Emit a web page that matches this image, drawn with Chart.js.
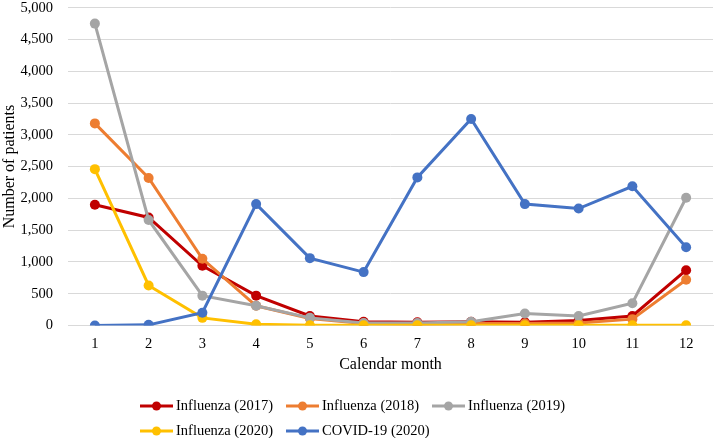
<!DOCTYPE html>
<html><head><meta charset="utf-8">
<script src="https://cdn.jsdelivr.net/npm/chart.js@4"></script>
<style>
html,body{margin:0;padding:0;background:#fff}
#wrap{position:relative;width:714px;height:438px;overflow:hidden}
#c{position:absolute;left:0;top:-16px}
#legend{position:absolute;left:140px;top:393px;width:445px;display:flex;flex-wrap:wrap;column-gap:13px;row-gap:0;
  font-family:"Liberation Serif","Times New Roman",serif;font-size:14.5px;color:#000}
.item{display:flex;align-items:center;height:25px;white-space:nowrap}
.item canvas{margin-right:3px}
</style>
</head><body><div id="wrap"><canvas id="c" width="714" height="454"></canvas><div id="legend"></div></div>
<script>
const months = ['1','2','3','4','5','6','7','8','9','10','11','12'];
const flu2017 = [1900, 1700, 940, 470, 150, 60, 50, 60, 50, 80, 150, 870];
const flu2018 = [3180, 2320, 1050, 310, 110, 30, 20, 30, 30, 40, 100, 720];
const flu2019 = [4750, 1660, 470, 310, 120, 40, 40, 60, 190, 150, 350, 2010];
const flu2020 = [2460, 630, 120, 20, 5, 5, 5, 5, 5, 5, 5, 5];
const covid2020 = [0, 10, 200, 1910, 1060, 840, 2330, 3250, 1910, 1840, 2190, 1230];
const seriesNames = ['Influenza (2017)','Influenza (2018)','Influenza (2019)','Influenza (2020)','COVID-19 (2020)'];
const colors = ['#C00000','#ED7D31','#A5A5A5','#FFC000','#4472C4'];
const seriesData = [flu2017, flu2018, flu2019, flu2020, covid2020];

// HTML legend
const leg = document.getElementById('legend');
seriesNames.forEach((name,i)=>{
  const it = document.createElement('div'); it.className='item';
  const cv = document.createElement('canvas'); cv.width=33; cv.height=12;
  const g = cv.getContext('2d');
  g.strokeStyle = colors[i]; g.lineWidth = 3;
  g.beginPath(); g.moveTo(0,6); g.lineTo(33,6); g.stroke();
  g.fillStyle = colors[i]; g.beginPath(); g.arc(16.5,6,4.5,0,Math.PI*2); g.fill();
  const sp = document.createElement('span'); sp.textContent = name;
  it.appendChild(cv); it.appendChild(sp); leg.appendChild(it);
});

const FONT = '"Liberation Serif", "Times New Roman", serif';
new Chart(document.getElementById('c'), {
  type: 'line',
  data: {
    labels: months,
    datasets: seriesData.map((d,i)=>({
      label: seriesNames[i], data: d, order: seriesData.length - i,
      borderColor: colors[i], backgroundColor: colors[i],
      borderWidth: 3, pointRadius: 5, pointHoverRadius: 5, tension: 0,
      pointBackgroundColor: colors[i], pointBorderWidth: 0
    }))
  },
  options: {
    responsive: false, animation: false,
    layout: { autoPadding: false, padding: { top: 6, right: 1, left: 0, bottom: 65 } },
    plugins: { tooltip: { enabled: false }, legend: { display: false } },
    scales: {
      x: {
        offset: true,
        grid: { display: false, drawTicks: false },
        border: { color: '#D9D9D9', width: 1 },
        ticks: { font: { family: FONT, size: 14.5, lineHeight: 1 }, color: '#000', padding: 11 },
        title: { display: true, text: 'Calendar month', font: { family: FONT, size: 16, lineHeight: 1 }, color: '#000', padding: { top: -5, bottom: 0 } }
      },
      y: {
        min: 0, max: 5000,
        afterFit: (s) => { s.width = 68; },
        ticks: { stepSize: 500, font: { family: FONT, size: 14.5 }, color: '#000', padding: 15 },
        grid: { color: '#D9D9D9', drawTicks: false },
        border: { display: false },
        title: { display: true, text: 'Number of patients', font: { family: FONT, size: 16 }, color: '#000', padding: { top: 0, bottom: 2 } }
      }
    }
  }
});
</script></body></html>
